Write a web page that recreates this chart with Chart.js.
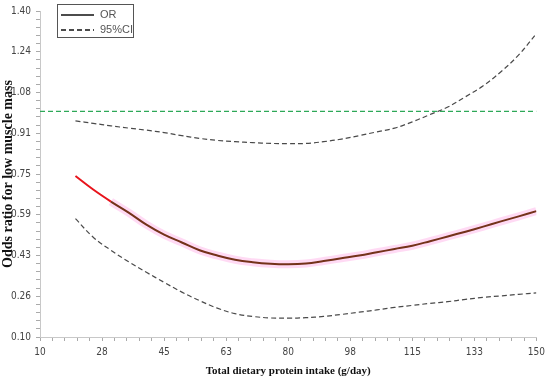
<!DOCTYPE html>
<html>
<head>
<meta charset="utf-8">
<script src="https://cdn.jsdelivr.net/npm/chart.js@4.4.0/dist/chart.umd.min.js"></script>
<style>
    html, body { margin: 0; padding: 0; background: #fff; }
    #wrap { width: 550px; height: 381px; position: relative; }
</style>
</head>
<body>
<div id="wrap"><canvas id="or-chart"></canvas></div>

<script>
    // protein intake (g/day)
    const intake = [20, 25, 30, 35, 40, 45, 50, 55, 60, 65, 70, 75, 80, 85, 90, 95, 100, 105, 110, 115, 120, 125, 130, 135, 140, 145, 150];
    const oddsRatio = [0.742, 0.688, 0.640, 0.596, 0.548, 0.508, 0.477, 0.446, 0.425, 0.408, 0.398, 0.392, 0.390, 0.393, 0.403, 0.414, 0.425, 0.438, 0.451, 0.464, 0.482, 0.501, 0.520, 0.540, 0.561, 0.581, 0.602];
    const upperCI = [0.962, 0.952, 0.942, 0.933, 0.925, 0.915, 0.903, 0.892, 0.884, 0.879, 0.875, 0.872, 0.871, 0.872, 0.879, 0.889, 0.903, 0.918, 0.933, 0.958, 0.987, 1.017, 1.058, 1.102, 1.158, 1.225, 1.310];
    const lowerCI = [0.572, 0.498, 0.446, 0.400, 0.358, 0.318, 0.279, 0.245, 0.215, 0.193, 0.182, 0.176, 0.175, 0.177, 0.182, 0.190, 0.199, 0.208, 0.218, 0.226, 0.234, 0.241, 0.250, 0.258, 0.264, 0.270, 0.276];
    const referenceLine = [[10, 1.0], [150, 1.0]];

    const xTickLabels = ['10', '28', '45', '63', '80', '98', '115', '133', '150'];
    const yTickLabels = ['0.10', '0.26', '0.43', '0.59', '0.75', '0.91', '1.08', '1.24', '1.40'];
    const legendLabels = ['OR', '95%CI'];

    const xMin = 10, xMax = 150, xMajor = 17.5;
    const yMin = 0.10, yMax = 1.40, yMajor = 0.1625;

    const tickFont = {family: '"Liberation Sans Narrow", "DejaVu Sans Condensed", "Liberation Sans", sans-serif', size: 10};
    const titleFamily = '"Liberation Serif", "Times New Roman", serif';

    const toPoints = ys => intake.map((x, i) => ({x: x, y: ys[i]}));

    function majorLabel(v, min, step, labels) {
        const k = (v - min) / step;
        const idx = Math.round(k);
        return Math.abs(k - idx) < 1e-6 ? labels[idx] : '';
    }

    // simple boxed legend in the upper left corner
    const boxLegend = {
        id: 'boxLegend',
        afterDraw(chart) {
            const ctx = chart.ctx;
            ctx.save();
            ctx.fillStyle = '#fff';
            ctx.fillRect(57.5, 4.5, 76, 33);
            ctx.strokeStyle = '#555';
            ctx.lineWidth = 1;
            ctx.strokeRect(57.5, 4.5, 76, 33);
            ctx.strokeStyle = '#111';
            ctx.lineWidth = 1.3;
            ctx.beginPath();
            ctx.moveTo(61, 15); ctx.lineTo(94, 15);
            ctx.stroke();
            ctx.setLineDash([5, 3]);
            ctx.lineWidth = 1.5;
            ctx.beginPath();
            ctx.moveTo(61, 30); ctx.lineTo(94, 30);
            ctx.stroke();
            ctx.setLineDash([]);
            ctx.fillStyle = '#555';
            ctx.font = '11px "Liberation Sans Narrow", "Liberation Sans", Arial, sans-serif';
            ctx.textBaseline = 'middle';
            ctx.fillText(legendLabels[0], 100, 15);
            ctx.fillText(legendLabels[1], 100, 30);
            ctx.restore();
        }
    };

    const ctx = document.getElementById('or-chart').getContext('2d');
    window.orChart = new Chart(ctx, {
        type: 'line',
        data: {
            datasets: [
                {
                    // pink highlight under the OR curve
                    label: 'halo',
                    data: toPoints(oddsRatio),
                    borderColor: 'rgba(255, 205, 240, 0.75)',
                    borderWidth: 8,
                    pointRadius: 0,
                    tension: 0.4,
                    segment: {
                        borderColor: c => c.p0.parsed.x < 27 ? 'rgba(0,0,0,0)' : 'rgba(255, 205, 240, 0.75)'
                    },
                    order: 5
                },
                {
                    label: 'OR',
                    data: toPoints(oddsRatio),
                    borderColor: '#74321a',
                    borderWidth: 2,
                    pointRadius: 0,
                    tension: 0.4,
                    segment: {
                        borderColor: c => c.p0.parsed.x < 27 ? '#e8141c' : '#74321a'
                    },
                    order: 1
                },
                {
                    label: 'upper',
                    data: toPoints(upperCI),
                    borderColor: '#4a4a4a',
                    borderWidth: 1.2,
                    borderDash: [5, 3],
                    pointRadius: 0,
                    tension: 0.4,
                    order: 2
                },
                {
                    label: 'lower',
                    data: toPoints(lowerCI),
                    borderColor: '#4a4a4a',
                    borderWidth: 1.2,
                    borderDash: [5, 3],
                    pointRadius: 0,
                    tension: 0.4,
                    order: 3
                },
                {
                    label: 'ref',
                    data: referenceLine.map(p => ({x: p[0], y: p[1]})),
                    borderColor: '#2ea858',
                    borderWidth: 1.3,
                    borderDash: [5, 3],
                    pointRadius: 0,
                    order: 4
                }
            ]
        },
        options: {
            responsive: true,
            maintainAspectRatio: false,
            animation: false,
            layout: {padding: {left: 0, right: 12, top: 11, bottom: 0}},
            plugins: {
                legend: {display: false},
                tooltip: {enabled: false}
            },
            scales: {
                x: {
                    type: 'linear',
                    min: xMin,
                    max: xMax,
                    border: {color: '#c8c8c8', width: 1},
                    grid: {drawOnChartArea: false, tickLength: 4, tickColor: '#aaa'},
                    ticks: {
                        stepSize: xMajor / 5,
                        autoSkip: false,
                        maxRotation: 0,
                        padding: 5,
                        color: '#444',
                        font: tickFont,
                        callback: v => majorLabel(v, xMin, xMajor, xTickLabels)
                    },
                    title: {
                        display: true,
                        text: 'Total dietary protein intake (g/day)',
                        color: '#111',
                        font: {family: titleFamily, size: 11, weight: 'bold'},
                        padding: {top: 4, bottom: 3}
                    },
                    afterFit: scale => { scale.height = 44; }
                },
                y: {
                    type: 'linear',
                    min: yMin,
                    max: yMax,
                    border: {color: '#c8c8c8', width: 1},
                    grid: {drawOnChartArea: false, tickLength: 4, tickColor: '#aaa'},
                    ticks: {
                        stepSize: yMajor / 5,
                        autoSkip: false,
                        padding: 5,
                        color: '#444',
                        font: tickFont,
                        callback: v => majorLabel(v, yMin, yMajor, yTickLabels)
                    },
                    title: {
                        display: true,
                        text: 'Odds ratio for low muscle mass',
                        color: '#111',
                        font: {family: titleFamily, size: 14, weight: 'bold'},
                        padding: {top: 0, bottom: 0}
                    },
                    afterFit: scale => { scale.width = 40; }
                }
            }
        },
        plugins: [boxLegend]
    });
</script>
</body>
</html>
